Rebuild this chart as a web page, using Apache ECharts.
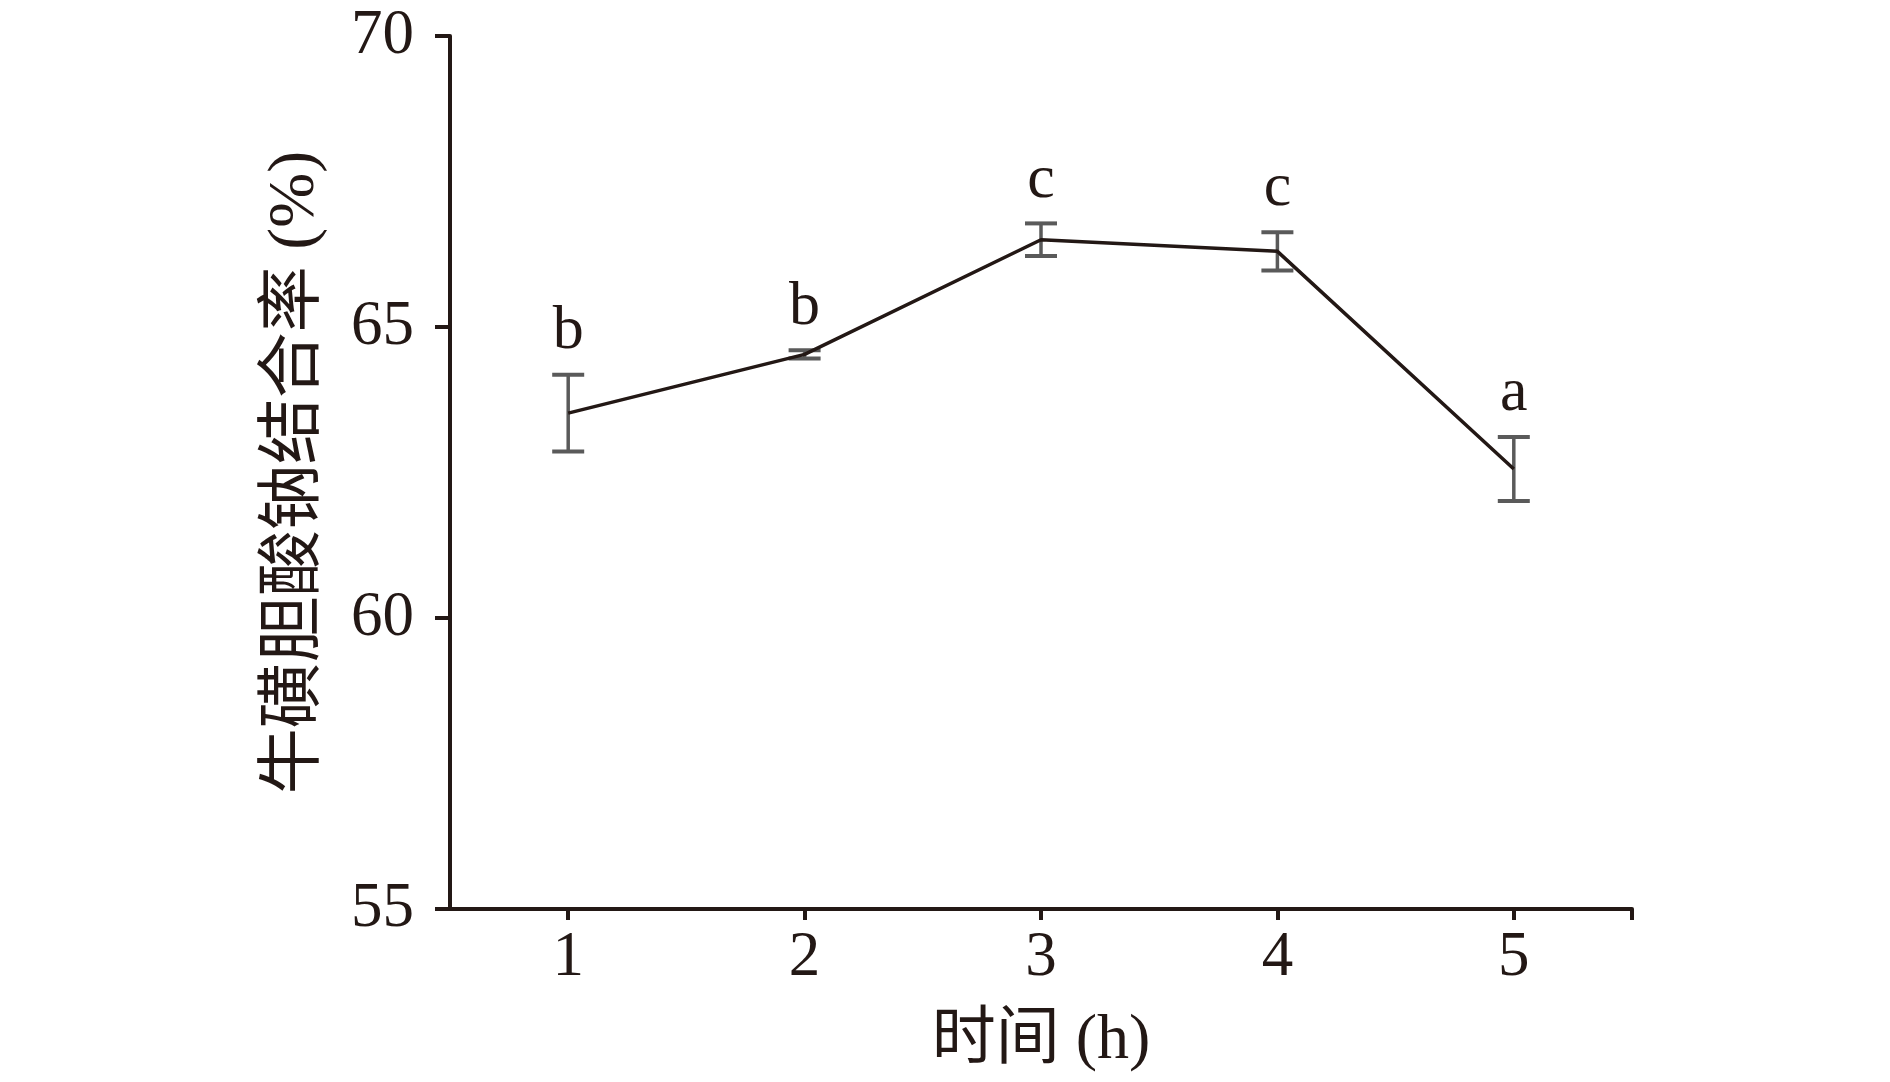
<!DOCTYPE html>
<html>
<head>
<meta charset="utf-8">
<script src="https://cdn.jsdelivr.net/npm/echarts@6/dist/echarts.min.js"></script>
<style>
html,body{margin:0;padding:0;background:#fff;}
#chart{width:1890px;height:1082px;}
</style>
</head>
<body>
<div id="chart"></div>
<script>
// Data
const hours = [1, 2, 3, 4, 5];
const bindingRate = [63.52, 64.53, 66.50, 66.30, 62.56];
const errors = [0.66, 0.07, 0.28, 0.33, 0.55];
const letters = ['b', 'b', 'c', 'c', 'a'];
const xTickValues = [1, 2, 3, 4, 5, 5.5];
const xLabelValues = [1, 2, 3, 4, 5];

const FONT = "'Times New Roman', 'Liberation Serif', 'Noto Sans CJK SC', serif";
const TXT = '#231815';
const ERR = '#5a5a5a';

const lineData = hours.map((h, i) => [h, bindingRate[i]]);
const errData = hours.map((h, i) => [h, bindingRate[i], errors[i], letters[i]]);

const chart = echarts.init(document.getElementById('chart'));
chart.setOption({
  animation: false,
  backgroundColor: '#fff',
  grid: { left: 450, top: 36, right: 258, bottom: 173, containLabel: false },
  xAxis: {
    type: 'value', min: 0.5, max: 5.5,
    name: '时间 (h)', nameLocation: 'middle', nameGap: 100,
    nameTextStyle: { fontFamily: FONT, fontSize: 64, color: TXT },
    axisLine: { show: true, lineStyle: { color: TXT, width: 4 } },
    axisTick: { show: true, inside: false, length: 11, customValues: xTickValues, lineStyle: { color: TXT, width: 4 } },
    axisLabel: { customValues: xLabelValues, margin: 18, fontFamily: FONT, fontSize: 63, color: TXT },
    splitLine: { show: false }
  },
  yAxis: {
    type: 'value', min: 55, max: 70, interval: 5,
    name: '牛磺胆酸钠结合率 (%)', nameLocation: 'middle', nameGap: 121, nameRotate: 90,
    nameTextStyle: { fontFamily: FONT, fontSize: 66, color: TXT },
    axisLine: { show: true, lineStyle: { color: TXT, width: 4 } },
    axisTick: { show: true, inside: false, length: 15, lineStyle: { color: TXT, width: 4 } },
    axisLabel: { margin: 36, fontFamily: FONT, fontSize: 63, color: TXT },
    splitLine: { show: false }
  },
  series: [
    {
      type: 'line', data: lineData, symbol: 'none',
      lineStyle: { color: TXT, width: 3.5 }, z: 3
    },
    {
      type: 'custom', data: errData, z: 2,
      renderItem: function (params, api) {
        const x = api.value(0), m = api.value(1), e = api.value(2);
        const top = api.coord([x, m + e]);
        const bot = api.coord([x, m - e]);
        const half = 16;
        const st = { stroke: ERR, lineWidth: 4 };
        return {
          type: 'group',
          children: [
            { type: 'line', shape: { x1: top[0], y1: top[1], x2: bot[0], y2: bot[1] }, style: { stroke: ERR, lineWidth: 3.5 } },
            { type: 'line', shape: { x1: top[0] - half, y1: top[1], x2: top[0] + half, y2: top[1] }, style: st },
            { type: 'line', shape: { x1: bot[0] - half, y1: bot[1], x2: bot[0] + half, y2: bot[1] }, style: st },
            { type: 'text', x: top[0], y: top[1] - 12,
              style: { text: api.value(3), fill: TXT, font: '62px ' + FONT, align: 'center', verticalAlign: 'bottom' } }
          ]
        };
      }
    }
  ]
});
</script>
</body>
</html>
